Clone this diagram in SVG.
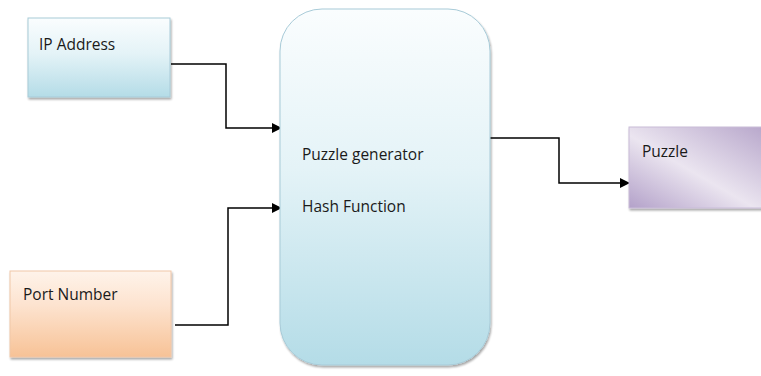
<svg xmlns="http://www.w3.org/2000/svg" width="761" height="376" viewBox="0 0 761 376">
  <defs>
    <linearGradient id="gBlue" x1="0" y1="0" x2="0" y2="1">
      <stop offset="0" stop-color="#fafdfe"/>
      <stop offset="0.45" stop-color="#e4f3f7"/>
      <stop offset="1" stop-color="#b4dce7"/>
    </linearGradient>
    <linearGradient id="gPeach" x1="0" y1="0" x2="0" y2="1">
      <stop offset="0" stop-color="#fef3ea"/>
      <stop offset="0.4" stop-color="#fde3cf"/>
      <stop offset="1" stop-color="#f7c296"/>
    </linearGradient>
    <linearGradient id="gPurple" x1="0" y1="1" x2="1" y2="0">
      <stop offset="0" stop-color="#b3a1c9"/>
      <stop offset="0.45" stop-color="#ebe5f0"/>
      <stop offset="1" stop-color="#b6a5ca"/>
    </linearGradient>
    <marker id="arrow" viewBox="0 0 10 10" refX="9" refY="5" markerWidth="10" markerHeight="10" markerUnits="userSpaceOnUse" orient="auto">
      <path d="M0,0 L10,5 L0,10 z" fill="#000"/>
    </marker>
    <filter id="shadow" x="-10%" y="-10%" width="130%" height="130%">
      <feGaussianBlur in="SourceAlpha" stdDeviation="1.2"/>
      <feOffset dx="1" dy="2" result="b"/>
      <feComponentTransfer><feFuncA type="linear" slope="0.35"/></feComponentTransfer>
      <feMerge><feMergeNode/><feMergeNode in="SourceGraphic"/></feMerge>
    </filter>
  </defs>
  <style>
    .lbl { font-family: "Open Sans", "Liberation Sans", sans-serif; font-size: 15.5px; fill: #1a1a1a; }
    .edge { fill: none; stroke: #000; stroke-width: 1.5; marker-end: url(#arrow); }
    .box { stroke-width: 1; }
  </style>
  <rect width="761" height="376" fill="#ffffff"/>

  <g id="connectors">
    <path class="edge" d="M171,64 H226 V128 H281"/>
    <path class="edge" d="M175,325 H228 V208 H281"/>
    <path class="edge" d="M490,138 H559 V183 H629"/>
  </g>

  <g id="ip-address">
    <rect class="box" x="28" y="18" width="142" height="79" fill="url(#gBlue)" stroke="#a8cbd8" filter="url(#shadow)"/>
    <text class="lbl" x="39" y="50">IP Address</text>
  </g>

  <g id="port-number">
    <rect class="box" x="10" y="271" width="161" height="86" fill="url(#gPeach)" stroke="#f0c7a8" filter="url(#shadow)"/>
    <text class="lbl" x="23" y="300">Port Number</text>
  </g>

  <g id="puzzle-generator">
    <rect class="box" x="280" y="9" width="210" height="356" rx="42" ry="42" fill="url(#gBlue)" stroke="#a8cbd8" filter="url(#shadow)"/>
    <text class="lbl" x="302" y="160">Puzzle generator</text>
    <text class="lbl" x="302" y="212">Hash Function</text>
  </g>

  <g id="puzzle">
    <rect class="box" x="629" y="127" width="140" height="81" fill="url(#gPurple)" stroke="#c9bcd8" filter="url(#shadow)"/>
    <text class="lbl" x="642" y="157">Puzzle</text>
  </g>
</svg>
